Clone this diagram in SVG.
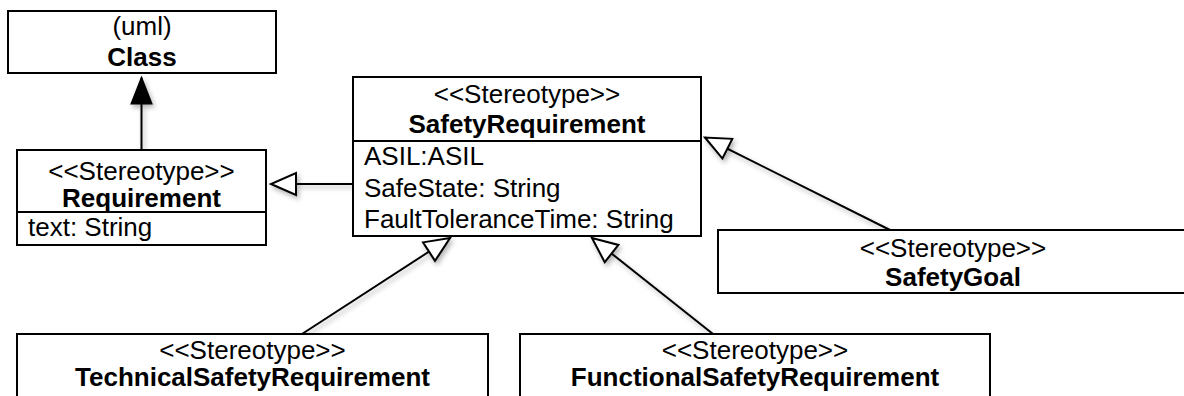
<svg xmlns="http://www.w3.org/2000/svg" width="1184" height="396" viewBox="0 0 1184 396">
<defs>
<style>
.box{fill:#fff;stroke:#000;stroke-width:2}
.div{stroke:#000;stroke-width:2}
.t{font-family:"Liberation Sans",Arial,Helvetica,sans-serif;font-size:26px;fill:#000}
.c{text-anchor:middle}
.b{font-weight:bold}
.edge{fill:none;stroke:#000;stroke-width:2}
</style>
<marker id="hollow" markerUnits="userSpaceOnUse" markerWidth="30" markerHeight="26" viewBox="-27 -13 30 26" refX="0" refY="0" orient="auto" overflow="visible">
<path d="M0,0 L-25,-11 L-25,11 Z" fill="#fff" stroke="#000" stroke-width="2" stroke-linejoin="miter"/>
</marker>
<marker id="filled" markerUnits="userSpaceOnUse" markerWidth="30" markerHeight="26" viewBox="-30 -13 32 26" refX="0" refY="0" orient="auto" overflow="visible">
<path d="M0,0 L-28,-11 L-28,11 Z" fill="#000" stroke="#000" stroke-width="1.5"/>
</marker>
<filter id="sh" x="-20%" y="-20%" width="140%" height="140%">
<feDropShadow dx="2" dy="3" stdDeviation="2.5" flood-color="#000" flood-opacity="0.3"/>
</filter>
</defs>

<g id="connectors" filter="url(#sh)">
<line class="edge" x1="141.5" y1="150" x2="141.5" y2="77.5" marker-end="url(#filled)"/>
<line class="edge" x1="353" y1="184" x2="271" y2="184" marker-end="url(#hollow)"/>
<line class="edge" x1="890" y1="230" x2="705" y2="137.5" marker-end="url(#hollow)"/>
<line class="edge" x1="302" y1="334" x2="450" y2="238" marker-end="url(#hollow)"/>
<line class="edge" x1="713" y1="334" x2="592" y2="238" marker-end="url(#hollow)"/>
</g>

<g id="Class">
<rect class="box" x="8" y="11" width="268" height="62"/>
<text class="t c" x="142" y="35">(uml)</text>
<text class="t c b" x="142" y="66">Class</text>
</g>

<g id="Requirement">
<rect class="box" x="17" y="150" width="249" height="95"/>
<line class="div" x1="17" y1="212" x2="266" y2="212"/>
<text class="t c" x="141.5" y="180">&lt;&lt;Stereotype&gt;&gt;</text>
<text class="t c b" x="141.5" y="207">Requirement</text>
<text class="t" x="28" y="236">text: String</text>
</g>

<g id="SafetyRequirement">
<rect class="box" x="353" y="77" width="348" height="159"/>
<line class="div" x1="353" y1="141" x2="701" y2="141"/>
<text class="t c" x="527" y="103">&lt;&lt;Stereotype&gt;&gt;</text>
<text class="t c b" x="527" y="133">SafetyRequirement</text>
<text class="t" x="364" y="165">ASIL:ASIL</text>
<text class="t" x="364" y="197">SafeState: String</text>
<text class="t" x="364" y="228">FaultToleranceTime: String</text>
</g>

<g id="SafetyGoal">
<rect class="box" x="718" y="230" width="470" height="63"/>
<text class="t c" x="953" y="256.5">&lt;&lt;Stereotype&gt;&gt;</text>
<text class="t c b" x="953" y="286">SafetyGoal</text>
</g>

<g id="TechnicalSafetyRequirement">
<rect class="box" x="17" y="334" width="471" height="80"/>
<text class="t c" x="252.5" y="359">&lt;&lt;Stereotype&gt;&gt;</text>
<text class="t c b" x="252.5" y="386">TechnicalSafetyRequirement</text>
</g>

<g id="FunctionalSafetyRequirement">
<rect class="box" x="520" y="334" width="470" height="80"/>
<text class="t c" x="755" y="359">&lt;&lt;Stereotype&gt;&gt;</text>
<text class="t c b" x="755" y="386">FunctionalSafetyRequirement</text>
</g>
</svg>
